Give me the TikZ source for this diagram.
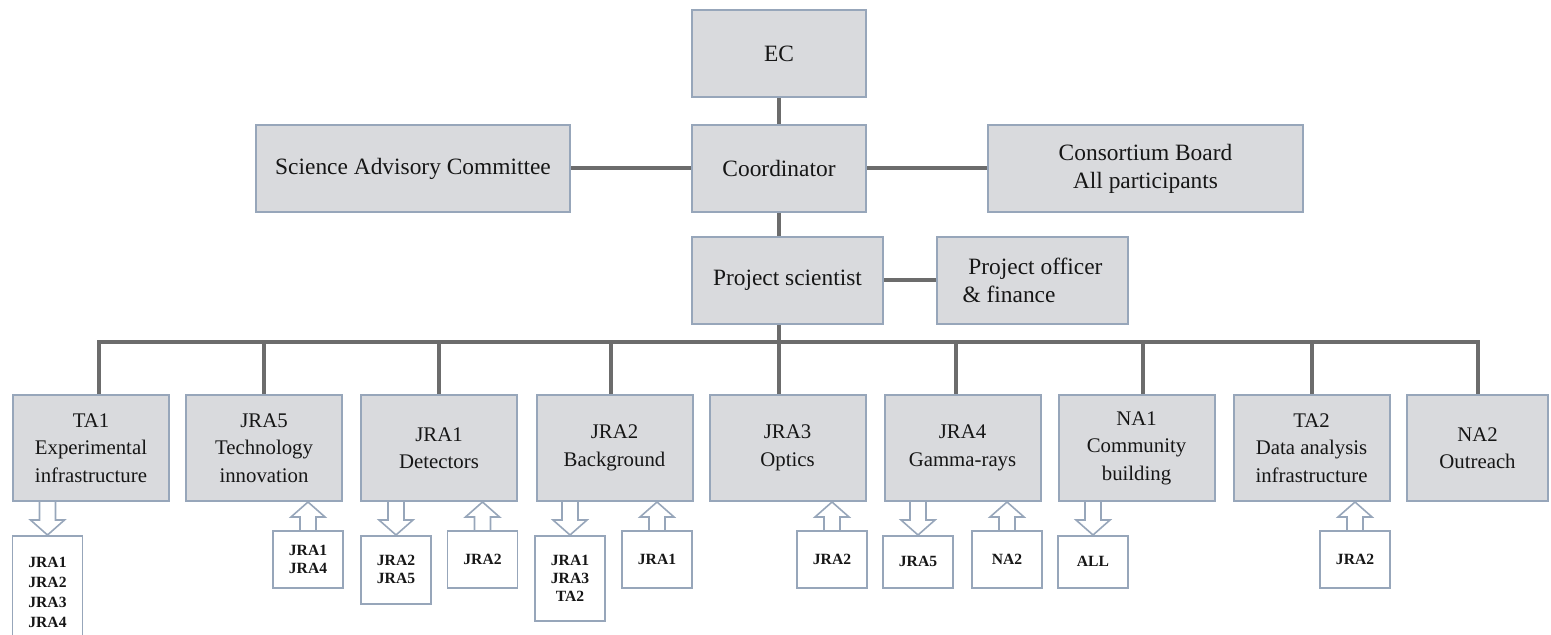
\documentclass[tikz,border=0pt]{standalone}
\usepackage{fontspec}
\setmainfont{Liberation Serif}
\usetikzlibrary{calc}
\definecolor{boxfill}{HTML}{D9DADD}
\definecolor{boxline}{HTML}{97A6BA}
\definecolor{conn}{HTML}{6C6C6C}
\definecolor{txt}{HTML}{161616}
\tikzset{
  box/.style={draw=boxline, line width=1pt, fill=boxfill, inner sep=2pt, align=center,
    font=\fontsize{11.7}{14}\selectfont, text=txt},
  unit/.style={box, minimum width=78pt, minimum height=53pt,
    font=\fontsize{10.4}{13.75}\selectfont},
  small/.style={draw=boxline, line width=0.8pt, fill=white, align=center, inner sep=1pt,
    minimum width=35pt, anchor=north, text=txt,
    font=\bfseries\fontsize{7.8}{9}\selectfont},
  link/.style={draw=conn, line width=2pt},
  barrow/.style={draw=boxline, line width=0.8pt, line join=miter},
}
% block arrow pointing down from parent #1 to child #2
\newcommand\dnblock[2]{\draw[barrow] let \p1=(#2.north), \p2=(#1.south) in
  (\x1-4pt,\y2) -- (\x1-4pt,\y1+7.5pt) -- (\x1-8.5pt,\y1+7.5pt) -- (\x1,\y1)
  -- (\x1+8.5pt,\y1+7.5pt) -- (\x1+4pt,\y1+7.5pt) -- (\x1+4pt,\y2);}
% block arrow pointing up from child #2 to parent #1
\newcommand\upblock[2]{\draw[barrow] let \p1=(#2.north), \p2=(#1.south) in
  (\x1-4pt,\y1) -- (\x1-4pt,\y2-7.5pt) -- (\x1-8.5pt,\y2-7.5pt) -- (\x1,\y2)
  -- (\x1+8.5pt,\y2-7.5pt) -- (\x1+4pt,\y2-7.5pt) -- (\x1+4pt,\y1);}

\begin{document}
\begin{tikzpicture}[x=0.5pt,y=-0.5pt]
\useasboundingbox (0,0) rectangle (1551,635);

% top levels
\node[box, minimum width=87pt, minimum height=43.5pt] (ec) at (779,53.5) {EC};
\node[box, minimum width=87pt, minimum height=43.5pt] (coord) at (779,168.5) {Coordinator};
\node[box, minimum width=157pt, minimum height=43.5pt] (sac) at (413,168.5) {Science Advisory Committee};
\node[box, minimum width=157.5pt, minimum height=43.5pt] (cb) at (1145.5,168.5) {Consortium Board\\All participants};
\node[box, minimum width=95.5pt, minimum height=43.5pt] (ps) at (787.5,280.5) {Project scientist};
\node[box, minimum width=95.5pt, minimum height=43.5pt, align=left] (po) at (1032.5,280.5) {\ Project officer\\\& finance};

% work packages
\node[unit] (ta1)  at (91,448)     {TA1\\Experimental\\infrastructure};
\node[unit] (jra5) at (264,448)    {JRA5\\Technology\\innovation};
\node[unit] (jra1) at (439,448)    {JRA1\\Detectors};
\node[unit] (jra2) at (614.5,448)  {JRA2\\Background};
\node[unit] (jra3) at (787.5,448)  {JRA3\\Optics};
\node[unit] (jra4) at (962.5,448)  {JRA4\\Gamma-rays};
\node[unit] (na1)  at (1136.5,448) {NA1\\Community\\building};
\node[unit] (ta2)  at (1311.5,448) {TA2\\Data analysis\\infrastructure};
\node[unit, minimum width=70.5pt] (na2) at (1477.5,448) {NA2\\Outreach};

% connectors
\draw[link] (ec.south) -- (coord.north);
\draw[link] (coord.west) -- (sac.east);
\draw[link] (coord.east) -- (cb.west);
\draw[link] (coord.south) -- (coord.south |- ps.north);
\draw[link] (ps.east) -- (po.west);
\coordinate (bus) at (779,342);
\draw[link] (coord.south |- ps.south) -- (bus);
\draw[link] ([xshift=4pt]ta1.north) |- (bus) -| (na2.north);
\draw[link] (jra5.north) -- (jra5.north |- bus);
\draw[link] (jra1.north) -- (jra1.north |- bus);
\draw[link] ([xshift=-2pt]jra2.north) -- ([xshift=-2pt]jra2.north |- bus);
\draw[link] (jra3.north -| bus) -- (bus);
\draw[link] ([xshift=-3.5pt]jra4.north) -- ([xshift=-3.5pt]jra4.north |- bus);
\draw[link] ([xshift=3pt]na1.north) -- ([xshift=3pt]na1.north |- bus);
\draw[link] (ta2.north) -- (ta2.north |- bus);

% small boxes
\node[small, minimum height=57pt, font=\bfseries\fontsize{7.8}{10}\selectfont] (sta1) at (47.5,535) {JRA1\\JRA2\\JRA3\\JRA4};
\node[small, minimum height=28.5pt] (sjra5) at (308,530)  {JRA1\\JRA4};
\node[small, minimum height=34pt]   (sjra1a) at (396,535) {JRA2\\JRA5};
\node[small, minimum height=28.5pt] (sjra1b) at (482.5,530) {JRA2};
\node[small, minimum height=42.5pt] (sjra2a) at (570,535) {JRA1\\JRA3\\TA2};
\node[small, minimum height=28.5pt] (sjra2b) at (657,530) {JRA1};
\node[small, minimum height=28.5pt] (sjra3)  at (832,530) {JRA2};
\node[small, minimum height=26pt]   (sjra4a) at (918,535) {JRA5};
\node[small, minimum height=28.5pt] (sjra4b) at (1007,530) {NA2};
\node[small, minimum height=26pt]   (sna1)   at (1093,535) {ALL};
\node[small, minimum height=28.5pt] (sta2)   at (1355,530) {JRA2};

% block arrows
\dnblock{ta1}{sta1}
\upblock{jra5}{sjra5}
\dnblock{jra1}{sjra1a}
\upblock{jra1}{sjra1b}
\dnblock{jra2}{sjra2a}
\upblock{jra2}{sjra2b}
\upblock{jra3}{sjra3}
\dnblock{jra4}{sjra4a}
\upblock{jra4}{sjra4b}
\dnblock{na1}{sna1}
\upblock{ta2}{sta2}
\end{tikzpicture}
\end{document}
